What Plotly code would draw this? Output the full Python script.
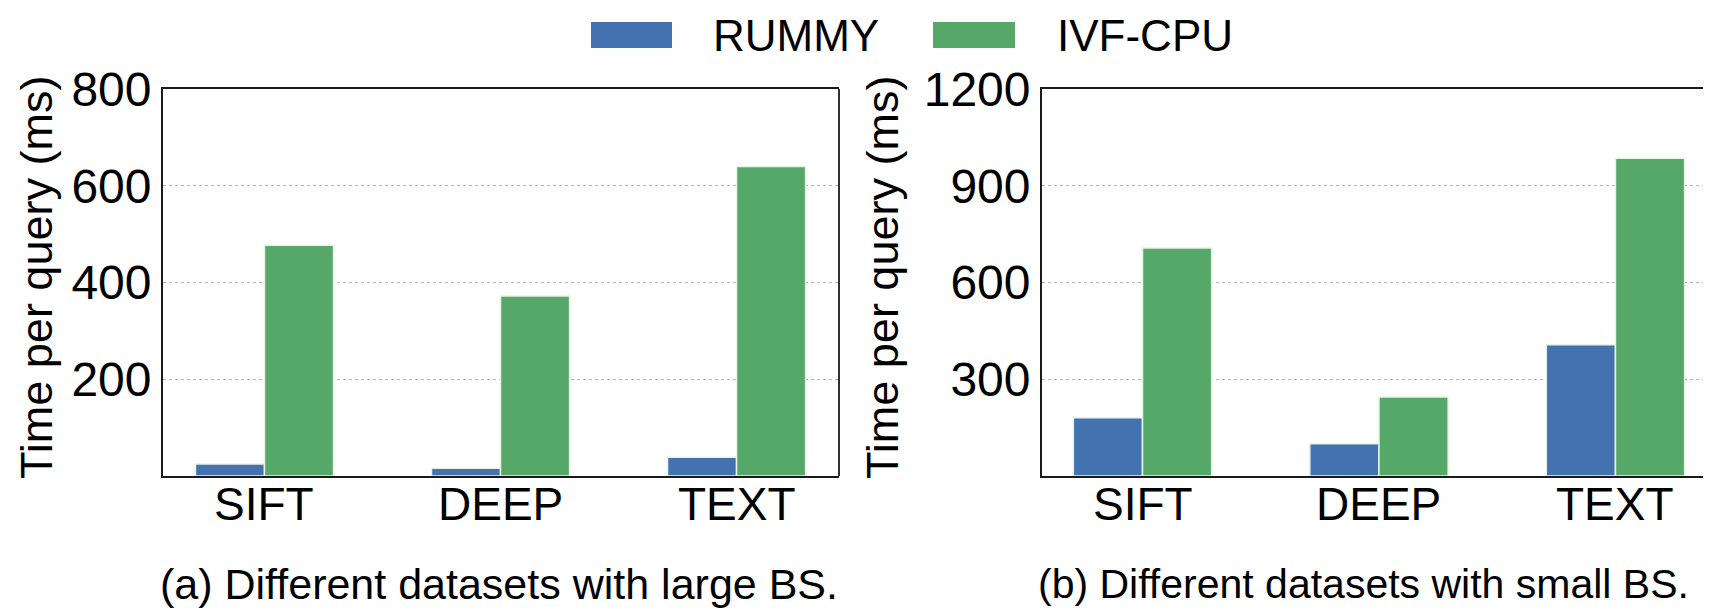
import plotly.graph_objects as go

categories = ["SIFT", "DEEP", "TEXT"]
rummy_large = [25, 16, 39]
ivf_large = [477, 372, 640]
rummy_small = [181, 100, 407]
ivf_small = [707, 245, 985]
yticks_large = [200, 400, 600, 800]
yticks_small = [300, 600, 900, 1200]
series_names = ["RUMMY", "IVF-CPU"]
captions = ["(a) Different datasets with large BS.", "(b) Different datasets with small BS."]

BLUE = "#4472B0"
GREEN = "#55A868"
FONT = "Liberation Sans, Arial, sans-serif"
OFF = 8  # page body margin
W, H = 1711 - OFF, 610 - OFF

xpos = list(range(len(categories)))

fig = go.Figure()
for vals, name, color, xa, ya in [
    (rummy_large, series_names[0], BLUE, "x", "y"),
    (ivf_large, series_names[1], GREEN, "x", "y"),
    (rummy_small, series_names[0], BLUE, "x2", "y2"),
    (ivf_small, series_names[1], GREEN, "x2", "y2"),
]:
    fig.add_trace(go.Bar(
        x=xpos, y=vals, name=name, xaxis=xa, yaxis=ya,
        marker=dict(color=color, line=dict(color="rgba(230,245,230,1)", width=1.5)),
        showlegend=False,
    ))

def px_x(p):
    return (p - OFF) / W

def px_y(p):
    return (H - (p - OFF)) / H

ydom = [px_y(476), px_y(89)]

common_x = dict(
    tickvals=xpos, ticktext=categories, showticklabels=False, showline=True, mirror=True,
    linecolor="#1a1a1a", linewidth=1.8, ticks="", showgrid=False,
    zeroline=False, automargin=False,
)
common_y = dict(
    showline=True, mirror=False, linecolor="#1a1a1a", linewidth=1.8,
    ticks="", showgrid=True, gridcolor="#b5b5b5", griddash="dot", gridwidth=1.2,
    zeroline=False, tickfont=dict(family=FONT, size=48, color="black"),
    automargin=False, ticklabelstandoff=0,
)

fig.update_layout(
    width=W, height=H, autosize=False,
    margin=dict(l=0, r=0, t=0, b=0),
    paper_bgcolor="white", plot_bgcolor="white",
    barmode="group", bargap=0.415, bargroupgap=0.0,
    xaxis=dict(domain=[px_x(163), px_x(839)], range=[-0.43, 2.434], anchor="y", **common_x),
    yaxis=dict(domain=ydom, range=[0, 800], tickvals=yticks_large, anchor="x", **common_y),
    xaxis2=dict(domain=[px_x(1042), 1.0], range=[-0.425, 2.404], anchor="y2", **common_x),
    yaxis2=dict(domain=ydom, range=[0, 1200], tickvals=yticks_small, anchor="x2", **common_y),
)

# right frame line for left subplot
fig.add_shape(type="line", xref="x domain", yref="y domain", x0=1, x1=1, y0=0, y1=1,
              line=dict(color="#1a1a1a", width=1.8))

# x tick labels
for xref in ["x", "x2"]:
    for xv, cat in zip(xpos, categories):
        fig.add_annotation(text=cat, xref=xref, yref="paper", x=xv, y=px_y(504),
                           xanchor="center", yanchor="middle", showarrow=False,
                           font=dict(family=FONT, size=46, color="black"))

# Custom legend
legend_items = [(series_names[0], BLUE, 591, 672, 711), (series_names[1], GREEN, 933, 1015, 1055)]
for name, color, x0, x1, tx in legend_items:
    fig.add_shape(type="rect", xref="paper", yref="paper",
                  x0=px_x(x0), x1=px_x(x1), y0=px_y(48), y1=px_y(22),
                  fillcolor=color, line=dict(color=color, width=0))
    fig.add_annotation(text=name, xref="paper", yref="paper", x=px_x(tx), y=px_y(35),
                       xanchor="left", yanchor="middle", showarrow=False,
                       font=dict(family=FONT, size=44, color="black"))

# Y titles
for cx in [36, 882]:
    fig.add_annotation(text="Time per query (ms)", xref="paper", yref="paper",
                       x=px_x(cx), y=px_y(278), xanchor="center", yanchor="middle",
                       textangle=-90, showarrow=False,
                       font=dict(family=FONT, size=45, color="black"))

# Captions
for txt, lx, fs in zip(captions, [158, 1036], [43, 41]):
    fig.add_annotation(text=txt, xref="paper", yref="paper", x=px_x(lx), y=px_y(584),
                       xanchor="left", yanchor="middle", showarrow=False,
                       font=dict(family=FONT, size=fs, color="black"))

fig.write_html("out.html")
